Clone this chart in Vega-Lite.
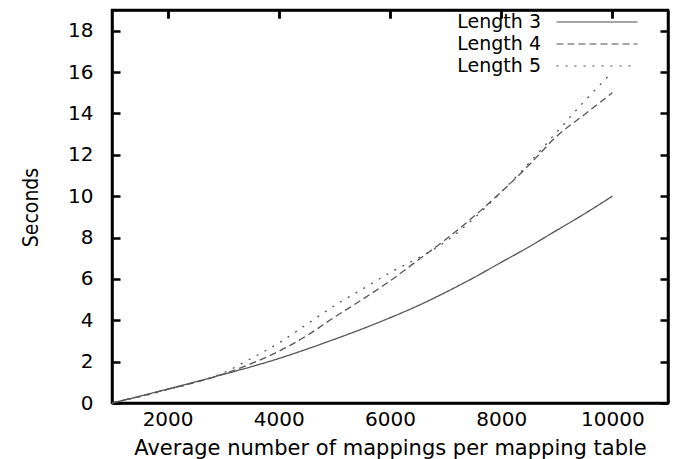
{
  "$schema": "https://vega.github.io/schema/vega-lite/v6.json",
  "width": 556,
  "height": 393,
  "autosize": {"type": "none"},
  "padding": {"left": 112, "top": 10, "right": 23, "bottom": 56},
  "background": "white",
  "config": {
    "view": {"stroke": "black", "strokeWidth": 2.5},
    "font": "DejaVu Sans",
    "axis": {
      "grid": false,
      "domainColor": "black",
      "domainWidth": 2.5,
      "tickColor": "black",
      "tickWidth": 2.5,
      "labelFont": "DejaVu Sans",
      "labelFontSize": 20,
      "labelColor": "black",
      "titleColor": "black",
      "titleFontWeight": "normal"
    }
  },
  "resolve": {"axis": {"x": "independent", "y": "independent"}},
  "data": {
    "values": [
      {"n": 1000, "s": 0, "series": "Length 3"},
      {"n": 1500, "s": 0.33, "series": "Length 3"},
      {"n": 2000, "s": 0.68, "series": "Length 3"},
      {"n": 2500, "s": 1.02, "series": "Length 3"},
      {"n": 3000, "s": 1.38, "series": "Length 3"},
      {"n": 3500, "s": 1.75, "series": "Length 3"},
      {"n": 4000, "s": 2.15, "series": "Length 3"},
      {"n": 4500, "s": 2.6, "series": "Length 3"},
      {"n": 5000, "s": 3.08, "series": "Length 3"},
      {"n": 5500, "s": 3.58, "series": "Length 3"},
      {"n": 6000, "s": 4.12, "series": "Length 3"},
      {"n": 6500, "s": 4.7, "series": "Length 3"},
      {"n": 7000, "s": 5.35, "series": "Length 3"},
      {"n": 7500, "s": 6.05, "series": "Length 3"},
      {"n": 8000, "s": 6.8, "series": "Length 3"},
      {"n": 8500, "s": 7.55, "series": "Length 3"},
      {"n": 9000, "s": 8.35, "series": "Length 3"},
      {"n": 9500, "s": 9.15, "series": "Length 3"},
      {"n": 10000, "s": 10.0, "series": "Length 3"},
      {"n": 1000, "s": 0, "series": "Length 4"},
      {"n": 1500, "s": 0.32, "series": "Length 4"},
      {"n": 2000, "s": 0.66, "series": "Length 4"},
      {"n": 2500, "s": 1.0, "series": "Length 4"},
      {"n": 3000, "s": 1.4, "series": "Length 4"},
      {"n": 3500, "s": 1.9, "series": "Length 4"},
      {"n": 4000, "s": 2.5, "series": "Length 4"},
      {"n": 4500, "s": 3.25, "series": "Length 4"},
      {"n": 5000, "s": 4.15, "series": "Length 4"},
      {"n": 5500, "s": 5.0, "series": "Length 4"},
      {"n": 6000, "s": 5.9, "series": "Length 4"},
      {"n": 6500, "s": 6.9, "series": "Length 4"},
      {"n": 7000, "s": 7.9, "series": "Length 4"},
      {"n": 7500, "s": 9.0, "series": "Length 4"},
      {"n": 8000, "s": 10.2, "series": "Length 4"},
      {"n": 8500, "s": 11.5, "series": "Length 4"},
      {"n": 9000, "s": 12.9, "series": "Length 4"},
      {"n": 9500, "s": 13.95, "series": "Length 4"},
      {"n": 10000, "s": 15.0, "series": "Length 4"},
      {"n": 1000, "s": 0, "series": "Length 5"},
      {"n": 1500, "s": 0.3, "series": "Length 5"},
      {"n": 2000, "s": 0.64, "series": "Length 5"},
      {"n": 2500, "s": 1.0, "series": "Length 5"},
      {"n": 3000, "s": 1.45, "series": "Length 5"},
      {"n": 3500, "s": 2.15, "series": "Length 5"},
      {"n": 4000, "s": 2.9, "series": "Length 5"},
      {"n": 4500, "s": 3.8, "series": "Length 5"},
      {"n": 5000, "s": 4.7, "series": "Length 5"},
      {"n": 5500, "s": 5.5, "series": "Length 5"},
      {"n": 6000, "s": 6.3, "series": "Length 5"},
      {"n": 6500, "s": 7.0, "series": "Length 5"},
      {"n": 7000, "s": 7.8, "series": "Length 5"},
      {"n": 7500, "s": 8.9, "series": "Length 5"},
      {"n": 8000, "s": 10.2, "series": "Length 5"},
      {"n": 8500, "s": 11.6, "series": "Length 5"},
      {"n": 9000, "s": 13.1, "series": "Length 5"},
      {"n": 9500, "s": 14.6, "series": "Length 5"},
      {"n": 10000, "s": 16.0, "series": "Length 5"}
    ]
  },
  "layer": [
    {
      "mark": {"type": "line", "interpolate": "monotone", "color": "#555", "strokeWidth": 1.3},
      "encoding": {
        "x": {
          "field": "n", "type": "quantitative",
          "scale": {"domain": [1000, 11000], "nice": false, "zero": false},
          "axis": {"values": [2000, 4000, 6000, 8000, 10000], "format": "d", "labelPadding": 6,
                   "ticks": false,
                   "grid": true, "gridColor": "black", "gridWidth": 2.5, "gridDash": [8, 2000],
                   "title": "Average number of mappings per mapping table", "titleFont": "DejaVu Sans",
                   "titleFontSize": 21, "titleBaseline": "alphabetic", "titleY": 51}
        },
        "y": {
          "field": "s", "type": "quantitative",
          "scale": {"domain": [0, 19], "nice": false},
          "axis": {"values": [0, 2, 4, 6, 8, 10, 12, 14, 16, 18], "labelPadding": 19,
                   "ticks": false,
                   "grid": true, "gridColor": "black", "gridWidth": 2.5, "gridDash": [8, 2000],
                   "title": "Seconds", "titleFont": "Liberation Sans Narrow, DejaVu Sans Condensed, Liberation Sans",
                   "titleFontSize": 21, "titleBaseline": "alphabetic", "titleX": -75, "titleY": 197}
        },
        "strokeDash": {
          "field": "series", "type": "nominal",
          "scale": {"domain": ["Length 3", "Length 4", "Length 5"], "range": [[1, 0], [7, 4], [2, 7]]},
          "legend": {
            "title": null,
            "orient": "none",
            "legendX": 475,
            "legendY": 2,
            "symbolType": "M-4.5,0H4.5",
            "symbolSize": 324,
            "symbolStrokeColor": "#888",
            "symbolStrokeWidth": 1.5,
            "labelFont": "DejaVu Sans",
            "labelFontSize": 19,
            "labelColor": "black",
            "labelAlign": "right",
            "labelOffset": -66,
            "rowPadding": 2
          }
        }
      }
    },
    {
      "mark": {"type": "line", "opacity": 0},
      "encoding": {
        "x": {"field": "n", "type": "quantitative",
              "axis": {"orient": "top", "values": [2000, 4000, 6000, 8000, 10000], "labels": false, "title": null, "tickSize": -8}},
        "y": {"field": "s", "type": "quantitative",
              "axis": {"orient": "right", "values": [0, 2, 4, 6, 8, 10, 12, 14, 16, 18], "labels": false, "title": null, "tickSize": -8}},
        "detail": {"field": "series"}
      }
    }
  ]
}
